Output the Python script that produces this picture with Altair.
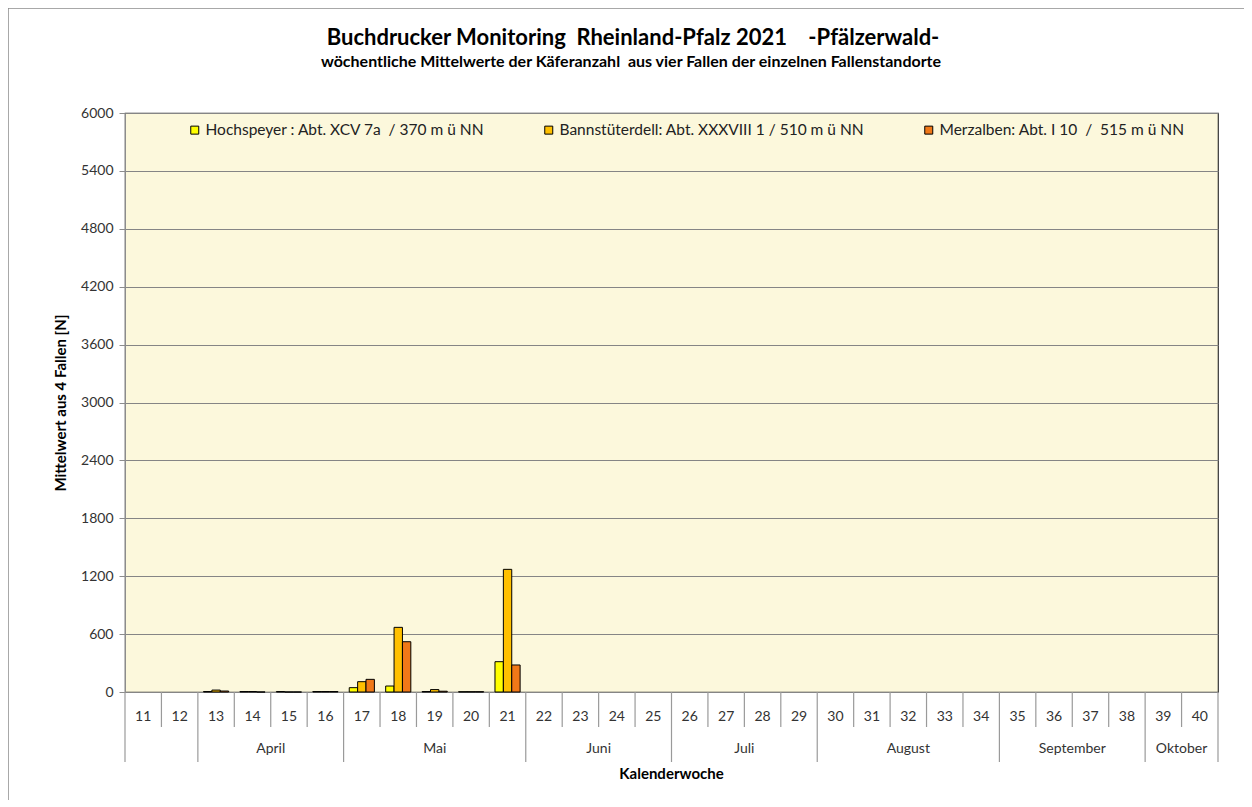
import altair as alt
import pandas as pd

# ---------------- data ----------------
weeks = list(range(11, 41))
sample_weeks = [13, 14, 15, 16, 17, 18, 19, 20, 21]
hochspeyer = [5, 5, 5, 5, 45, 62, 5, 3, 314]
bannstuetterdell = [20, 5, 0, 5, 107, 670, 25, 3, 1271]
merzalben = [10, 0, 0, 5, 131, 521, 8, 3, 280]

series_names = [
    "Hochspeyer : Abt. XCV 7a \u00a0/ 370 m ü NN",
    "Bannstüterdell: Abt. XXXVIII 1 / 510 m ü NN",
    "Merzalben: Abt. I 10 \u00a0/ \u00a0515 m ü NN",
]
series_colors = ["#FFFF00", "#FFC000", "#F07818"]

month_names = ["", "April", "Mai", "Juni", "Juli", "August", "September", "Oktober"]
month_first = [11, 13, 17, 22, 26, 30, 35, 39]
month_last = [12, 16, 21, 25, 29, 34, 38, 40]

y_ticks = [0, 600, 1200, 1800, 2400, 3000, 3600, 4200, 4800, 5400, 6000]

title_text = "Buchdrucker Monitoring \u00a0Rheinland-Pfalz 2021 \u00a0\u00a0\u00a0-Pfälzerwald-"
subtitle_text = "wöchentliche Mittelwerte der Käferanzahl \u00a0aus vier Fallen der einzelnen Fallenstandorte"
x_title = "Kalenderwoche"
y_title = "Mittelwert aus 4 Fallen [N]"

# ---------------- tables ----------------
rows = []
for i, (name, vals) in enumerate(zip(series_names, [hochspeyer, bannstuetterdell, merzalben])):
    for w, v in zip(sample_weeks, vals):
        rows.append({"week": w, "series": name, "idx": i, "value": v})
bars_df = pd.DataFrame(rows)

month_bounds = set([f - 0.5 for f in month_first] + [month_last[-1] + 0.5])
sep_rows = []
for b in [w - 0.5 for w in weeks] + [weeks[-1] + 0.5]:
    sep_rows.append({"b": b, "long": b in month_bounds})
sep_df = pd.DataFrame(sep_rows)

week_df = pd.DataFrame({"week": weeks, "label": [str(w) for w in weeks]})
month_df = pd.DataFrame({
    "name": month_names,
    "center": [(f + l) / 2 for f, l in zip(month_first, month_last)],
})

W, H = 1093, 579
FONT = "Lato"
xscale = alt.Scale(domain=[10.5, 40.5], nice=False, zero=False)
yscale = alt.Scale(domain=[0, 6000], nice=False)

# outer frame
frame = alt.Chart(pd.DataFrame({"a": [0]})).mark_rect(
    fill="transparent", stroke="#8c8c8c", strokeWidth=1.5
).encode(
    x=alt.value(-117), x2=alt.value(1300), y=alt.value(-105), y2=alt.value(900)
)

bars = alt.Chart(bars_df).transform_calculate(
    x0="datum.week - 0.345 + datum.idx * 0.23",
    x1="datum.week - 0.345 + datum.idx * 0.23 + 0.23",
).mark_bar(stroke="black", strokeWidth=1).encode(
    x=alt.X("x0:Q", scale=xscale, axis=None),
    x2="x1:Q",
    y=alt.Y(
        "value:Q",
        scale=yscale,
        axis=alt.Axis(
            values=y_ticks,
            format="d",
            title=y_title,
            titleFont=FONT,
            titleFontSize=15,
            titleFontWeight="bold",
            titleColor="black",
            titlePadding=12,
            labelFont=FONT,
            labelFontSize=14,
            labelColor="#333",
            labelPadding=6,
            tickColor="#8c8c8c",
            tickSize=6,
            domainColor="#8c8c8c",
            grid=True,
            gridColor="#858585",
            gridWidth=1.2,
        ),
    ),
    y2=alt.datum(0),
    color=alt.Color(
        "series:N",
        scale=alt.Scale(domain=series_names, range=series_colors),
        legend=alt.Legend(
            orient="none",
            legendX=62,
            legendY=9,
            direction="horizontal",
            title=None,
            symbolType="square",
            symbolSize=64,
            symbolStrokeColor="black",
            symbolStrokeWidth=1,
            symbolOpacity=1,
            labelFont=FONT,
            labelFontSize=15.5,
            labelColor="#222",
            labelLimit=0,
            labelOffset=3,
            columnPadding=56,
            padding=0,
        ),
    ),
)

seps_short = alt.Chart(sep_df).transform_filter("!datum.long").mark_rule(
    color="#9a9a9a", strokeWidth=1.2
).encode(
    x=alt.X("b:Q", scale=xscale, axis=None),
    y=alt.value(H),
    y2=alt.value(H + 35),
)
seps_long = alt.Chart(sep_df).transform_filter("datum.long").mark_rule(
    color="#9a9a9a", strokeWidth=1.2
).encode(
    x=alt.X("b:Q", scale=xscale, axis=None),
    y=alt.value(H),
    y2=alt.value(H + 70),
)

week_labels = alt.Chart(week_df).mark_text(
    font=FONT, fontSize=14, color="#333", baseline="middle"
).encode(
    x=alt.X("week:Q", scale=xscale, axis=None),
    y=alt.value(H + 25),
    text="label:N",
)

month_labels = alt.Chart(month_df).mark_text(
    font=FONT, fontSize=14, color="#333", baseline="middle"
).encode(
    x=alt.X("center:Q", scale=xscale, axis=None),
    y=alt.value(H + 57),
    text="name:N",
)

xtitle = alt.Chart(pd.DataFrame({"t": [x_title]})).mark_text(
    font=FONT, fontSize=15, fontWeight="bold", color="black", baseline="middle"
).encode(x=alt.value(W / 2), y=alt.value(H + 82), text="t:N")

title = alt.Chart(pd.DataFrame({"t": [title_text]})).mark_text(
    font=FONT, fontSize=22, fontWeight="bold", color="black", baseline="middle"
).encode(x=alt.value(508), y=alt.value(-75), text="t:N")

subtitle = alt.Chart(pd.DataFrame({"t": [subtitle_text]})).mark_text(
    font=FONT, fontSize=16, fontWeight="bold", color="black", baseline="middle"
).encode(x=alt.value(506), y=alt.value(-51), text="t:N")

chart = alt.layer(
    frame, bars, seps_short, seps_long, week_labels, month_labels, xtitle, title, subtitle
).properties(
    width=W,
    height=H,
    autosize=alt.AutoSizeParams(type="none"),
    padding={"left": 117, "top": 105, "right": 26, "bottom": 108},
).configure(
    background="white"
).configure_view(
    fill="#FCF8DC", stroke="#333", strokeWidth=1.2
)

chart.save("out.html", embed_options={"renderer": "svg", "actions": False})
